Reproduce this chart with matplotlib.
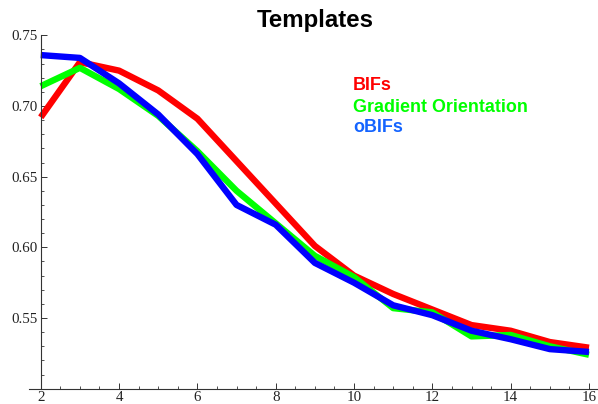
import numpy as np
import matplotlib.pyplot as plt
from matplotlib.ticker import MultipleLocator

# data
x = np.arange(2, 17)
bifs = [0.692, 0.731, 0.725, 0.711, 0.691, 0.661, 0.631, 0.601, 0.580,
        0.567, 0.556, 0.545, 0.541, 0.533, 0.529]
gradient = [0.714, 0.727, 0.712, 0.693, 0.668, 0.640, 0.617, 0.594, 0.579,
            0.557, 0.554, 0.537, 0.538, 0.530, 0.524]
obifs = [0.736, 0.734, 0.716, 0.694, 0.666, 0.630, 0.616, 0.589, 0.575,
         0.559, 0.552, 0.541, 0.535, 0.528, 0.526]
labels = ['BIFs', 'Gradient Orientation', 'oBIFs']
line_colors = ['#ff0000', '#00ff00', '#0000ff']
text_colors = ['#ff0000', '#00ff00', '#1464ff']

W, H = 598, 404
fig = plt.figure(figsize=(W / 100, H / 100), dpi=100)
# axes box in pixels: left 29, right 598, top 35.3, bottom 388.7
ax = fig.add_axes([29 / W, 1 - 388.7 / H, (598 - 29) / W, (388.7 - 35.3) / H])
ax.set_xlim(1.70, 16.23)
ax.set_ylim(0.50, 0.75)

for series, c in zip([bifs, gradient, obifs], line_colors):
    ax.plot(x, series, color=c, lw=4.6, solid_capstyle='butt',
            solid_joinstyle='round', clip_on=False)

# Mathematica-like axes
for s in ['top', 'right']:
    ax.spines[s].set_visible(False)
ax.spines['left'].set_position(('data', 2))
ax.spines['left'].set_bounds(0.5, 0.75)
for s in ['left', 'bottom']:
    ax.spines[s].set_color('#333333')
    ax.spines[s].set_linewidth(0.8)

ax.xaxis.set_major_locator(MultipleLocator(2))
ax.xaxis.set_minor_locator(MultipleLocator(0.5))
ax.yaxis.set_major_locator(MultipleLocator(0.05))
ax.yaxis.set_minor_locator(MultipleLocator(0.01))
ax.set_yticks(np.arange(0.55, 0.751, 0.05))
ax.set_yticklabels(['%.2f' % v for v in np.arange(0.55, 0.751, 0.05)])
ax.set_xticks(np.arange(2, 17, 2))
ax.tick_params(which='major', direction='in', length=4, width=0.7, color='#333333',
               labelsize=10.8, pad=2)
ax.tick_params(which='minor', direction='in', length=2, width=0.6, color='#333333')
for lab in ax.get_xticklabels() + ax.get_yticklabels():
    lab.set_family('Liberation Serif')
    lab.set_color('#222222')

fig.text(315 / W, 1 - 20 / H, 'Templates', ha='center', va='center',
         family='Liberation Sans', weight='bold', fontsize=17.3)

for i, (lab, c) in enumerate(zip(labels, text_colors)):
    fig.text(353 / W, 1 - (86 + 21 * i) / H, lab, ha='left', va='center',
             family='Liberation Sans', weight='bold', fontsize=12.9, color=c)

fig.savefig('out.png', dpi=100)
